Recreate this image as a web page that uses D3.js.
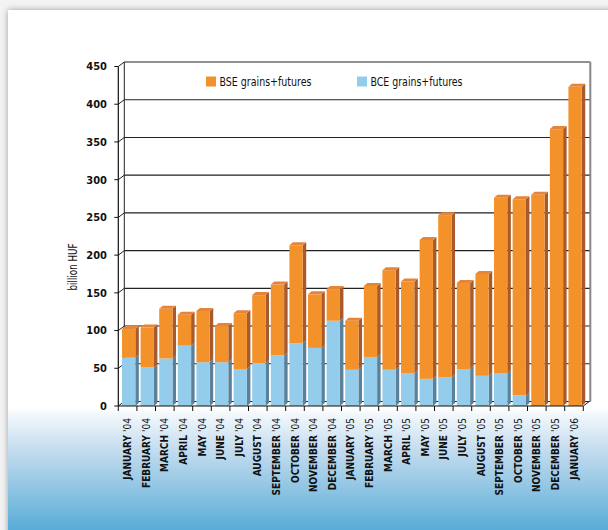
<!DOCTYPE html>
<html><head><meta charset="utf-8">
<script src="https://cdn.jsdelivr.net/npm/d3@7"></script>
<style>html,body{margin:0;padding:0;background:#f3f3f3;}svg{display:block;}</style>
</head><body>
<script>
const months = ["JANUARY '04","FEBRUARY '04","MARCH '04","APRIL '04","MAY '04","JUNE '04","JULY '04","AUGUST '04","SEPTEMBER '04","OCTOBER '04","NOVEMBER '04","DECEMBER '04","JANUARY '05","FEBRUARY '05","MARCH '05","APRIL '05","MAY '05","JUNE '05","JULY '05","AUGUST '05","SEPTEMBER '05","OCTOBER '05","NOVEMBER '05","DECEMBER '05","JANUARY '06"];
const bce = [64,51,63,80,58,58,49,57,67,83,77,113,48,65,48,43,36,38,49,40,43,14,0,0,0];
const bse = [38,53,66,41,68,48,74,90,94,130,71,42,65,94,132,122,184,215,114,135,233,260,280,367,423];
const yTicks = [0,50,100,150,200,250,300,350,400,450];
const seriesNames = ["BSE grains+futures","BCE grains+futures"];
const seriesColors = ["#f3922a","#93cdeb"];

const W = 608, H = 530;
const svg = d3.select("body").append("svg").attr("width", W).attr("height", H);
const defs = svg.append("defs");
const f = defs.append("filter").attr("id","sh").attr("x","-5%").attr("y","-5%").attr("width","110%").attr("height","110%");
f.append("feGaussianBlur").attr("in","SourceAlpha").attr("stdDeviation",3);
const fm = f.append("feMerge"); fm.append("feMergeNode"); fm.append("feMergeNode").attr("in","SourceGraphic");
const g1 = defs.append("linearGradient").attr("id","bg").attr("x1",0).attr("y1",0).attr("x2",0).attr("y2",1);
g1.append("stop").attr("offset",0).attr("stop-color","#ffffff");
g1.append("stop").attr("offset",0.05).attr("stop-color","#f3f8fc");
g1.append("stop").attr("offset",0.33).attr("stop-color","#c6ddef");
g1.append("stop").attr("offset",1).attr("stop-color","#58acd7");

svg.append("rect").attr("x",8).attr("y",10).attr("width",620).attr("height",540).attr("fill","#fff").style("filter","url(#sh)").attr("opacity",0.35);
svg.append("rect").attr("x",8).attr("y",10).attr("width",620).attr("height",540).attr("fill","#fff");
svg.append("rect").attr("x",8).attr("y",408).attr("width",620).attr("height",122).attr("fill","url(#bg)");

const x0 = 118.3, x1 = 583.3;
const x = d3.scaleBand().domain(months).range([x0, x1]).padding(0);
const y = d3.scaleLinear().domain([0,450]).range([406, 66.5]);
const DX = 6, DY = 4.5;      // wall depth
const bdx = 3.5, bdy = 3;    // bar depth

const narrow = "'Liberation Sans Narrow','Arial Narrow','DejaVu Sans Condensed',sans-serif";

// back wall gridlines
const grid = svg.append("g");
yTicks.forEach(t => {
  grid.append("line").attr("x1", x0 + DX).attr("x2", x1 + DX + 1).attr("y1", y(t) - DY).attr("y2", y(t) - DY)
    .attr("stroke", "#222").attr("stroke-width", 1.1);
  grid.append("line").attr("x1", x0).attr("x2", x0 + DX).attr("y1", y(t)).attr("y2", y(t) - DY)
    .attr("stroke", "#222").attr("stroke-width", 1);
});
grid.append("line").attr("x1", x0 + DX).attr("x2", x0 + DX).attr("y1", y(0) - DY).attr("y2", y(450) - DY).attr("stroke","#222").attr("stroke-width",1);
grid.append("line").attr("x1", x1 + DX + 1).attr("x2", x1 + DX + 1).attr("y1", y(0) - DY).attr("y2", y(450) - DY).attr("stroke","#888").attr("stroke-width",2);
grid.append("line").attr("x1", x1).attr("x2", x1 + DX).attr("y1", y(0)).attr("y2", y(0) - DY).attr("stroke","#222").attr("stroke-width",1);

// bars
const bars = svg.append("g");
function drawSeg(cx, w, v0, v1, front, side, top, withTop) {
  const yt = y(v1), yb = y(v0);
  bars.append("path").attr("d", `M${cx+w},${yt} L${cx+w+bdx},${yt-bdy} L${cx+w+bdx},${yb-bdy} L${cx+w},${yb} Z`).attr("fill", side);
  bars.append("rect").attr("x", cx).attr("y", yt).attr("width", w).attr("height", yb - yt).attr("fill", front);
  if (withTop) {
    bars.append("path").attr("d", `M${cx},${yt} L${cx+bdx},${yt-bdy} L${cx+w+bdx},${yt-bdy} L${cx+w},${yt} Z`).attr("fill", top);
  }
}
months.forEach((m, i) => {
  const bw = x.bandwidth();
  const cx = x(m) + bw * 0.2;
  const w = bw * 0.715;
  if (bce[i] > 0) drawSeg(cx, w, 0, bce[i], seriesColors[1], "#5b8099", "#7fb8d6", false);
  drawSeg(cx, w, bce[i], bce[i] + bse[i], seriesColors[0], "#a85a2c", "#e6843a", true);
});

// front axes
const ax = svg.append("g");
ax.append("line").attr("x1", x0).attr("x2", x0).attr("y1", y(0)).attr("y2", y(450)).attr("stroke","#111").attr("stroke-width",1.2);
ax.append("line").attr("x1", x0).attr("x2", x1).attr("y1", y(0)).attr("y2", y(0)).attr("stroke","#111").attr("stroke-width",1.2);
yTicks.forEach(t => {
  ax.append("line").attr("x1", x0 - 4).attr("x2", x0).attr("y1", y(t)).attr("y2", y(t)).attr("stroke","#111");
  ax.append("text").attr("x", 107).attr("y", y(t)).attr("dy","0.35em").attr("text-anchor","end")
    .attr("font-family", narrow).attr("font-weight","bold").attr("font-size", 11).attr("fill","#111").text(t);
});
const bounds = months.map(m => x(m)).concat([x1]);
bounds.forEach(b => {
  ax.append("line").attr("x1", b).attr("x2", b).attr("y1", y(0)).attr("y2", y(0) + 5).attr("stroke","#111");
});
months.forEach(m => {
  const cx = x(m) + x.bandwidth() / 2;
  const parts = m.split(" ");
  const t = ax.append("text").attr("transform", `translate(${cx + 3.5},${418}) rotate(-90)`).attr("text-anchor","end")
    .attr("font-family", narrow).attr("font-size", 10).attr("fill","#111");
  t.append("tspan").attr("font-weight","bold").text(parts[0] + " ");
  t.append("tspan").attr("font-weight","normal").text(parts[1]);
});

// y title
svg.append("text").attr("transform", "translate(77,267) rotate(-90)").attr("text-anchor","middle")
  .attr("font-family", narrow).attr("font-size", 11.5).attr("fill","#111")
  .attr("textLength", 47).attr("lengthAdjust","spacingAndGlyphs").text("billion HUF");

// legend
const lg = svg.append("g");
const lx = [206, 357];
seriesNames.forEach((n, i) => {
  lg.append("rect").attr("x", lx[i]).attr("y", 76.5).attr("width", 10).attr("height", 10).attr("fill", seriesColors[i]);
  lg.append("text").attr("x", lx[i] + 13.5).attr("y", 86).attr("font-family", narrow).attr("font-size", 12.5).attr("fill","#111")
    .attr("textLength", 92).attr("lengthAdjust","spacingAndGlyphs").text(n);
});
</script>
</body></html>
